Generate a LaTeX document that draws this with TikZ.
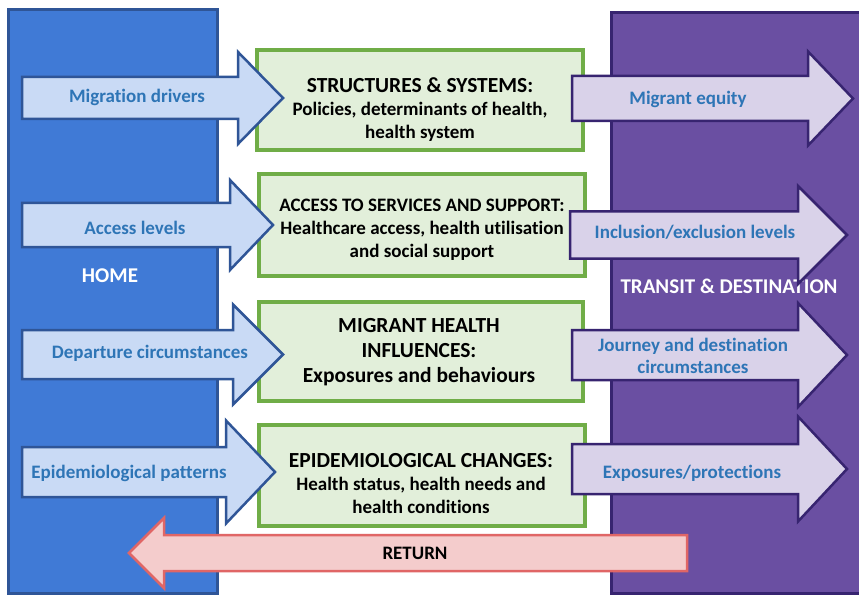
\documentclass[tikz,border=0pt]{standalone}
\usepackage{fontspec}
\setmainfont[Ligatures=NoCommon]{Carlito}

\definecolor{homefill}{RGB}{64,122,214}
\definecolor{homeline}{RGB}{47,85,151}
\definecolor{destfill}{RGB}{106,79,162}
\definecolor{destline}{RGB}{55,36,112}
\definecolor{boxfill}{RGB}{226,239,218}
\definecolor{boxline}{RGB}{112,173,71}
\definecolor{outfill}{RGB}{201,218,245}
\definecolor{infill}{RGB}{217,210,233}
\definecolor{retfill}{RGB}{244,204,204}
\definecolor{retline}{RGB}{224,102,102}
\definecolor{labeltext}{RGB}{46,117,182}

% fat arrow: style, tail x, head base x, tip x, centre y, shaft half width, head half width
\newcommand{\fatarrow}[7]{%
  \draw[#1] (#2,#5-#6) -- (#3,#5-#6) -- (#3,#5-#7) -- (#4,#5)
    -- (#3,#5+#7) -- (#3,#5+#6) -- (#2,#5+#6) -- cycle;}

\tikzset{
  outarrow/.style={fill=outfill, draw=homeline, line width=2.5pt, line join=miter},
  inarrow/.style={fill=infill, draw=destline, line width=2.5pt, line join=miter},
  retarrow/.style={fill=retfill, draw=retline, line width=2.5pt, line join=miter},
  factor/.style={fill=boxfill, draw=boxline, line width=4pt},
  factortext/.style={align=center, font=\fontsize{19}{23}\selectfont\bfseries},
  flow/.style={text=labeltext, align=center, font=\fontsize{19}{22}\selectfont\bfseries},
  place/.style={text=white, font=\fontsize{21}{24}\selectfont\bfseries}
}

\newcommand{\headline}[1]{{\fontsize{21.5}{25}\selectfont #1}}

\begin{document}
\begin{tikzpicture}[x=1pt, y=-1pt]
  \clip (0,0) rectangle (859,596);
  \fill[white] (0,0) rectangle (859,596);

  % the two sides
  \draw[fill=homefill, draw=homeline, line width=3pt] (8,10) rectangle (217,593);
  \draw[fill=destfill, draw=destline, line width=3pt] (611,13) rectangle (880,593);
  \node[place] (home) at (110,276) {HOME};
  \node[place] (dest) at (729,286) {TRANSIT \& DESTINATION};

  % middle factors
  \node[factor, minimum width=326pt, minimum height=100pt] (structures) at (420,100) {};
  \node[factor, minimum width=326pt, minimum height=102pt] (access) at (422,225) {};
  \node[factor, minimum width=324pt, minimum height=99pt] (influences) at (421,351.5) {};
  \node[factor, minimum width=326pt, minimum height=101pt] (changes) at (422,475.5) {};
  \node[factortext] (structures-t) at (420,110)
    {\headline{STRUCTURES \& SYSTEMS:}\\ Policies, determinants of health,\\ health system};
  \node[factortext] (access-t) at (422,229.5)
    {ACCESS TO SERVICES AND SUPPORT:\\ Healthcare access, health utilisation\\ and social support};
  \node[factortext] (influences-t) at (419,352)
    {\headline{MIGRANT HEALTH}\\[2pt] \headline{INFLUENCES:}\\[2pt] \headline{Exposures and behaviours}};
  \node[factortext] (changes-t) at (421,483.5)
    {\headline{EPIDEMIOLOGICAL CHANGES:}\\ Health status, health needs and\\ health conditions};

  % arrows leaving home
  \fatarrow{outarrow}{22}{238}{283}{98}{21}{46}
  \fatarrow{outarrow}{22}{230}{273}{225}{22}{45}
  \fatarrow{outarrow}{22}{233}{283}{354.5}{24.5}{50}
  \fatarrow{outarrow}{22}{226}{275}{472}{25}{51.5}
  \node[flow] (drivers) at (137,97) {Migration drivers};
  \node[flow] (levels) at (135,228) {Access levels};
  \node[flow] (departure) at (150,353) {Departure circumstances};
  \node[flow] (patterns) at (129,473) {Epidemiological patterns};

  % arrows into transit and destination
  \fatarrow{inarrow}{572}{808}{853}{98.5}{22.5}{47}
  \fatarrow{inarrow}{570}{798}{847}{235}{23.5}{49}
  \fatarrow{inarrow}{572}{798}{847}{355}{25}{52}
  \fatarrow{inarrow}{572}{798}{847}{469}{25}{52.5}
  \node[flow] (equity) at (688,99) {Migrant equity};
  \node[flow] (inclusion) at (695,232) {Inclusion/exclusion levels};
  \node[flow] (journey) at (693,356) {Journey and destination\\ circumstances};
  \node[flow] (protections) at (692,473) {Exposures/protections};

  % way back
  \fatarrow{retarrow}{687}{164}{129}{553}{18}{35}
  \node[font=\fontsize{19}{22}\selectfont\bfseries] (return) at (415,553) {RETURN};
\end{tikzpicture}
\end{document}
